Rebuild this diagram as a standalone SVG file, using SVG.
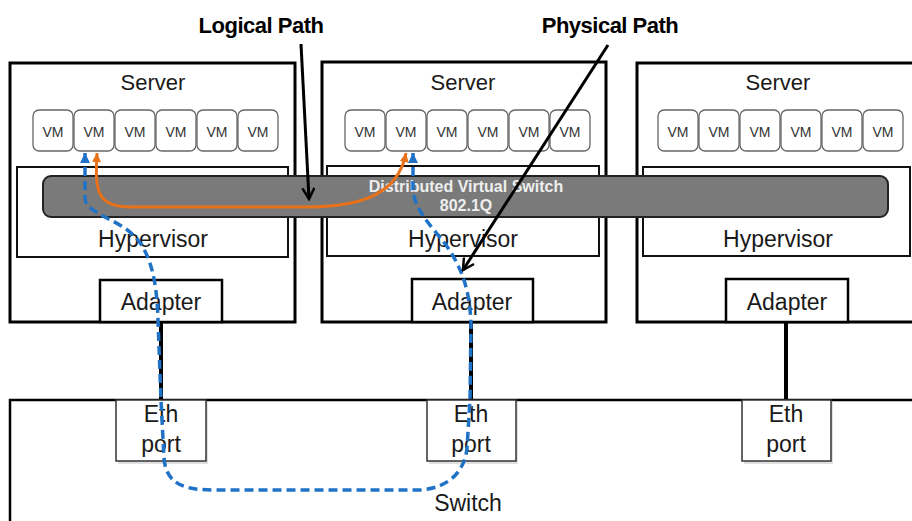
<svg xmlns="http://www.w3.org/2000/svg" width="912" height="521" viewBox="0 0 912 521">
<style>
.srv{fill:#fff;stroke:#000;stroke-width:3}
.hyp{fill:#fff;stroke:#111;stroke-width:2}
.vm{fill:#fff;stroke:#666;stroke-width:1.3}
.adp{fill:#fff;stroke:#000;stroke-width:2.5}
.eth{fill:#fff;stroke:#333;stroke-width:1.5}
.shd{fill:#000;opacity:0.12}
.t{font-family:"Liberation Sans",Arial,sans-serif;fill:#1a1a1a;text-anchor:middle}
.big{font-size:23px}
.srvt{font-size:22px}
.vmt{font-size:14px;fill:#333}
.hdr{font-size:22px;font-weight:bold;fill:#000;letter-spacing:-0.5px}
.dvst{font-size:16px;font-weight:bold;fill:#eee}
.wire{stroke:#000;stroke-width:4;fill:none}
.blk{stroke:#000;stroke-width:3;fill:none}
.org{stroke:#e8711a;stroke-width:3;fill:none}
.blu{stroke:#1f72c6;stroke-width:3.5;fill:none;stroke-dasharray:9 5}
</style>
<defs>
<marker id="vhead" viewBox="0 0 14 14" refX="12" refY="7" markerWidth="14" markerHeight="14" markerUnits="userSpaceOnUse" orient="auto">
<path d="M1,1 L12,7 L1,13" fill="none" stroke="#000" stroke-width="2.5"/>
</marker>
<marker id="oh" viewBox="0 0 10 10" refX="10" refY="5" markerWidth="10" markerHeight="9" markerUnits="userSpaceOnUse" orient="auto-start-reverse">
<path d="M0,0 L10,5 L0,10 Z" fill="#e8711a"/>
</marker>
<marker id="bh" viewBox="0 0 10 10" refX="10" refY="5" markerWidth="10" markerHeight="10" markerUnits="userSpaceOnUse" orient="auto-start-reverse">
<path d="M0,0 L10,5 L0,10 Z" fill="#1f72c6"/>
</marker>
</defs>

<g id="switch">
<rect x="10" y="400" width="930" height="150" fill="#fff" stroke="#000" stroke-width="2.5"/>
<text class="t big" x="468" y="511">Switch</text>
</g>

<g id="server1">
<rect class="srv" x="10" y="63" width="285" height="259"/>
<text class="t srvt" x="153" y="90">Server</text>
<rect class="hyp" x="17" y="167" width="271" height="90"/>
<text class="t big" x="153" y="247">Hypervisor</text>
<rect class="adp" x="100" y="280" width="122" height="42"/>
<text class="t big" x="161" y="310">Adapter</text>
</g>
<g id="server1-vms">
<rect class="vm" x="33" y="110" width="40" height="41" rx="6"/><text class="t vmt" x="53" y="137">VM</text>
<rect class="vm" x="74" y="110" width="40" height="41" rx="6"/><text class="t vmt" x="94" y="137">VM</text>
<rect class="vm" x="115" y="110" width="40" height="41" rx="6"/><text class="t vmt" x="135" y="137">VM</text>
<rect class="vm" x="156" y="110" width="40" height="41" rx="6"/><text class="t vmt" x="176" y="137">VM</text>
<rect class="vm" x="197" y="110" width="40" height="41" rx="6"/><text class="t vmt" x="217" y="137">VM</text>
<rect class="vm" x="238" y="110" width="40" height="41" rx="6"/><text class="t vmt" x="258" y="137">VM</text>
</g>

<g id="server2">
<rect class="srv" x="322" y="62" width="284" height="260"/>
<text class="t srvt" x="463" y="90">Server</text>
<rect class="hyp" x="327" y="166" width="272" height="90"/>
<text class="t big" x="463" y="247">Hypervisor</text>
<rect class="adp" x="412" y="279" width="121" height="43"/>
<text class="t big" x="472" y="310">Adapter</text>
</g>
<g id="server2-vms">
<rect class="vm" x="345" y="110" width="40" height="41" rx="6"/><text class="t vmt" x="365" y="137">VM</text>
<rect class="vm" x="386" y="110" width="40" height="41" rx="6"/><text class="t vmt" x="406" y="137">VM</text>
<rect class="vm" x="427" y="110" width="40" height="41" rx="6"/><text class="t vmt" x="447" y="137">VM</text>
<rect class="vm" x="468" y="110" width="40" height="41" rx="6"/><text class="t vmt" x="488" y="137">VM</text>
<rect class="vm" x="509" y="110" width="40" height="41" rx="6"/><text class="t vmt" x="529" y="137">VM</text>
<rect class="vm" x="550" y="110" width="40" height="41" rx="6"/><text class="t vmt" x="570" y="137">VM</text>
</g>

<g id="server3">
<rect class="srv" x="637" y="63" width="300" height="259"/>
<text class="t srvt" x="778" y="90">Server</text>
<rect class="hyp" x="643" y="167" width="267" height="89"/>
<text class="t big" x="778" y="247">Hypervisor</text>
<rect class="adp" x="726" y="279" width="122" height="43"/>
<text class="t big" x="787" y="310">Adapter</text>
</g>
<g id="server3-vms">
<rect class="vm" x="658" y="110" width="40" height="41" rx="6"/><text class="t vmt" x="678" y="137">VM</text>
<rect class="vm" x="699" y="110" width="40" height="41" rx="6"/><text class="t vmt" x="719" y="137">VM</text>
<rect class="vm" x="740" y="110" width="40" height="41" rx="6"/><text class="t vmt" x="760" y="137">VM</text>
<rect class="vm" x="781" y="110" width="40" height="41" rx="6"/><text class="t vmt" x="801" y="137">VM</text>
<rect class="vm" x="822" y="110" width="40" height="41" rx="6"/><text class="t vmt" x="842" y="137">VM</text>
<rect class="vm" x="863" y="110" width="40" height="41" rx="6"/><text class="t vmt" x="883" y="137">VM</text>
</g>

<g id="dvs">
<rect x="43" y="176" width="845" height="41" rx="8" fill="#7a7a7a" stroke="#222" stroke-width="2"/>
<text class="t dvst" x="466" y="192">Distributed Virtual Switch</text>
<text class="t dvst" x="466" y="211">802.1Q</text>
</g>

<g id="connectors">
<line class="wire" x1="161" y1="322" x2="161" y2="401"/>
<line class="wire" x1="471" y1="322" x2="471" y2="401"/>
<line class="wire" x1="786" y1="322" x2="786" y2="401"/>
</g>

<g id="eth1">
<rect class="shd" x="118" y="402" width="90" height="62"/>
<rect class="eth" x="116" y="400" width="90" height="61"/>
<text class="t big" x="161" y="422">Eth</text>
<text class="t big" x="161" y="452">port</text>
</g>
<g id="eth2">
<rect class="shd" x="429" y="402" width="89" height="62"/>
<rect class="eth" x="427" y="400" width="89" height="61"/>
<text class="t big" x="471" y="422">Eth</text>
<text class="t big" x="471" y="452">port</text>
</g>
<g id="eth3">
<rect class="shd" x="744" y="402" width="89" height="62"/>
<rect class="eth" x="742" y="400" width="89" height="61"/>
<text class="t big" x="786" y="422">Eth</text>
<text class="t big" x="786" y="452">port</text>
</g>

<g id="paths">
<path class="org" d="M97,153 C95,190 96,207 130,207 L300,207 C360,208 398,195 406,153" marker-start="url(#oh)" marker-end="url(#oh)"/>
<path class="blu" d="M85,153 L85,198 C86,215 120,218 138,240 C152,258 157,285 158,320 L161,400 L164,458 C166,485 185,490 215,490 L420,490 C450,488 465,470 467,448 L470,400 L471,325 C470,290 462,268 446,245 C428,222 415,210 413,190 L413,153" marker-start="url(#bh)" marker-end="url(#bh)"/>
</g>

<g id="labels">
<text class="t hdr" x="261" y="33">Logical Path</text>
<text class="t hdr" x="610" y="33">Physical Path</text>
<path class="blk" d="M301,44 L309,199" stroke-width="3.5" marker-end="url(#vhead)"/>
<path class="blk" d="M608,45 L463,270" marker-end="url(#vhead)"/>
</g>
</svg>
